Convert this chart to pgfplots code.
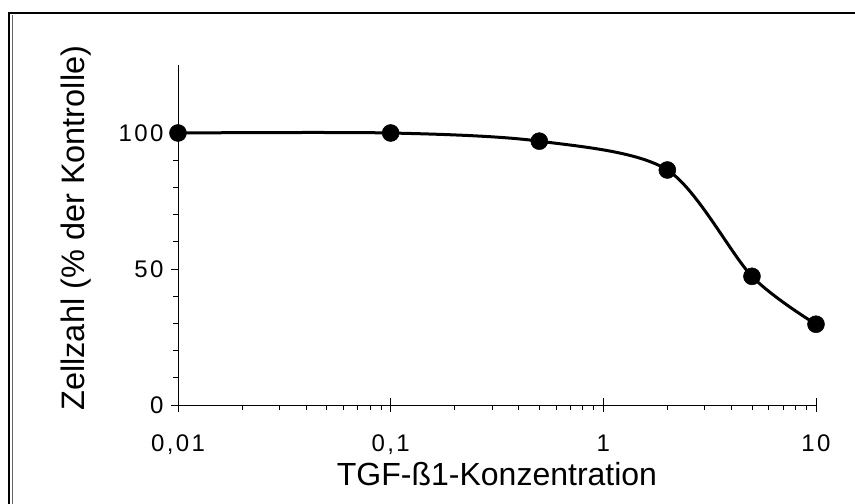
\documentclass[border=0pt]{standalone}
\usepackage{fontspec}
\setmainfont{Liberation Sans}
\newfontfamily\tickfont{Liberation Sans}[LetterSpace=10]
\usepackage{pgfplots}
\pgfplotsset{compat=1.18}
\begin{document}
\begin{tikzpicture}
\path[use as bounding box] (-178bp,-99bp) rectangle (677bp,405bp);
\begin{axis}[
  at={(0,0)}, anchor=south west,
  scale only axis,
  width=638bp, height=340bp,
  xmode=log, xmin=0.01, xmax=10,
  ymin=0, ymax=125,
  axis x line*=bottom, axis y line*=left,
  axis line style={-, line width=0.9pt},
  tick style={black, line width=0.8pt},
  tick align=outside,
  major tick length=7bp, minor tick length=5bp,
  xtick={0.01,0.1,1,10},
  xticklabels={{0,01},{0,1},{1},{10}},
  extra x ticks={0.01,0.1,1,10},
  extra x tick labels={},
  extra x tick style={tick align=inside},
  ytick={0,50,100},
  yticklabels={{0},{50},{100}},
  minor y tick num=4,
  xticklabel style={font=\tickfont\fontsize{24bp}{28bp}\selectfont, anchor=base, yshift=-39bp},
  yticklabel style={font=\tickfont\fontsize{24bp}{28bp}\selectfont, xshift=-4bp},
  xlabel={TGF-ß1-Konzentration},
  ylabel={Zellzahl (\% der Kontrolle)},
  xlabel style={font=\fontsize{32bp}{38bp}\selectfont, at={(axis description cs:0.5,0)}, anchor=base, yshift=-80bp},
  ylabel style={font=\fontsize{32.5bp}{38bp}\selectfont, at={(axis description cs:0,0.52)}, anchor=base, yshift=93bp},
  clip=false,
]
\addplot[black, line width=3bp, smooth, mark=*, mark size=8.5bp, mark options={solid, fill=black, line width=0.5pt}]
  coordinates {(0.01,100) (0.1,100) (0.5,97) (2,86.4) (5,47.3) (10,29.7)};
\end{axis}
\draw[line width=1.8pt, black] (-169bp,-110bp) -- (-169bp,392bp) -- (690bp,392bp);
\draw[line width=0.8pt, black!60] (-165.5bp,390bp) -- (-165.5bp,-110bp);
\end{tikzpicture}
\end{document}
